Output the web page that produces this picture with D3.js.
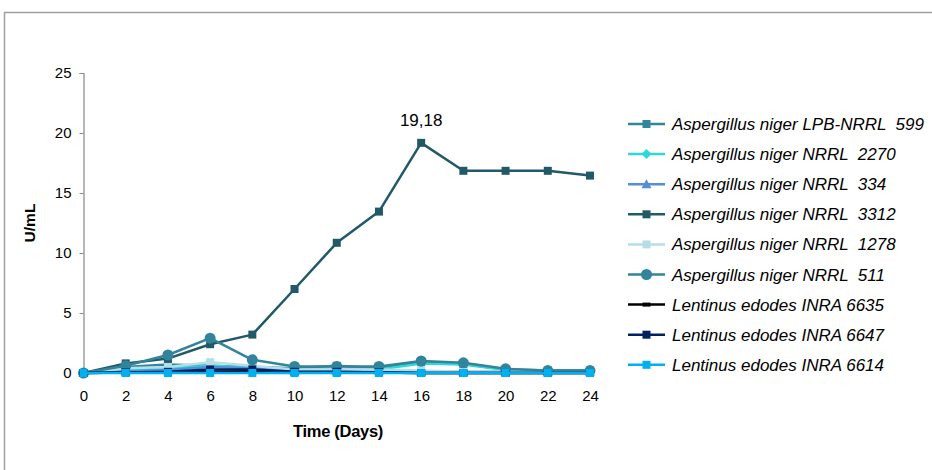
<!DOCTYPE html>
<html><head><meta charset="utf-8">
<script src="https://cdn.jsdelivr.net/npm/d3@7"></script>
<style>body{margin:0;background:#fff;} svg{display:block;font-family:"Liberation Sans",Arial,sans-serif;}</style>
</head><body><svg id="c" width="932" height="470"></svg>
<script>
const days = [0,2,4,6,8,10,12,14,16,18,20,22,24];
const yTicks = [0,5,10,15,20,25];
const seriesNames = [
  "Aspergillus niger LPB-NRRL  599",
  "Aspergillus niger NRRL  2270",
  "Aspergillus niger NRRL  334",
  "Aspergillus niger NRRL  3312",
  "Aspergillus niger NRRL  1278",
  "Aspergillus niger NRRL  511",
  "Lentinus edodes INRA 6635",
  "Lentinus edodes INRA 6647",
  "Lentinus edodes INRA 6614"
];
const v599  = [0,0.5,0.7,0.6,0.5,0.4,0.6,0.4,0.9,0.75,0.3,0.2,0.2];
const v2270 = [0,0.3,0.4,0.6,0.45,0.3,0.3,0.3,0.8,0.7,0.25,0.1,0.1];
const v334  = [0,0.15,0.25,0.5,0.4,0.2,0.2,0.2,0.1,0.1,0.1,0.1,0.1];
const v3312 = [0,0.8,1.2,2.4,3.2,7.0,10.85,13.45,19.18,16.85,16.85,16.85,16.45];
const v1278 = [0,0.4,0.5,0.9,0.6,0.3,0.3,0.3,0.2,0.1,0.1,0.1,0.1];
const v511  = [0,0.6,1.5,2.9,1.1,0.55,0.55,0.55,1.0,0.85,0.35,0.2,0.2];
const v6635 = [0,0.05,0.05,0.1,0.15,0.05,0.05,0.05,0,0,0,0,0];
const v6647 = [0,0.05,0.1,0.3,0.3,0.1,0.1,0.05,0,0,0,0,0];
const v6614 = [0,0,0,0,0,0,0,0,0,0,0,0,0];
const seriesValues = [v599,v2270,v334,v3312,v1278,v511,v6635,v6647,v6614];
const colors = ["#31859C","#2ED8D8","#558ED5","#215968","#B7DEE8","#31849B","#000000","#002060","#00B0F0"];
const markers = ["square","diamond","triangle","square","square","circle","dash","square","square"];
const peakLabel = "19,18";

const svg = d3.select("#c");
// outer frame
svg.append("path").attr("d","M4.5,470 L4.5,12.5 L932,12.5").attr("fill","none").attr("stroke","#a0a0a0").attr("stroke-width",1.5);

const x = d3.scaleLinear().domain([0,24]).range([83.5,590]);
const y = d3.scaleLinear().domain([0,25]).range([373,73]);

// y axis
const ya = svg.append("g").attr("transform","translate(83.5,0)")
  .call(d3.axisLeft(y).tickValues(yTicks).tickSize(4).tickPadding(8));
ya.select(".domain").attr("stroke","#888").attr("stroke-width",1.2);
ya.selectAll(".tick line").attr("stroke","#888");
ya.selectAll("text").attr("font-size",15).attr("fill","#000").attr("font-family","Liberation Sans, Arial, sans-serif");

// x axis
const xa = svg.append("g").attr("transform","translate(0,373)")
  .call(d3.axisBottom(x).tickValues(days).tickSize(0).tickPadding(17));
xa.select(".domain").attr("stroke","#888").attr("stroke-width",1);
xa.selectAll("text").attr("font-size",15).attr("fill","#000").attr("font-family","Liberation Sans, Arial, sans-serif");

// axis titles
svg.append("text").attr("x",338).attr("y",437).attr("text-anchor","middle")
  .attr("font-weight","bold").attr("font-size",16.5).attr("letter-spacing",-0.3).text("Time (Days)");
svg.append("text").attr("transform","translate(35,223) rotate(-90)").attr("text-anchor","middle")
  .attr("font-weight","bold").attr("font-size",15.5).text("U/mL");

function drawMarker(g, type, cx, cy, color){
  if(type==="square"){
    g.append("rect").attr("x",cx-4).attr("y",cy-4).attr("width",8).attr("height",8).attr("fill",color);
  } else if(type==="diamond"){
    g.append("path").attr("d",`M${cx},${cy-5}L${cx+5},${cy}L${cx},${cy+5}L${cx-5},${cy}Z`).attr("fill",color);
  } else if(type==="triangle"){
    g.append("path").attr("d",`M${cx},${cy-5}L${cx+5},${cy+4}L${cx-5},${cy+4}Z`).attr("fill",color);
  } else if(type==="circle"){
    g.append("circle").attr("cx",cx).attr("cy",cy).attr("r",5.5).attr("fill",color);
  } else if(type==="dash"){
    g.append("rect").attr("x",cx-4).attr("y",cy-2).attr("width",8).attr("height",4).attr("fill",color);
  }
}

const line = d3.line().x((d,i)=>x(days[i])).y(d=>y(d));
seriesValues.forEach((vals,si)=>{
  const g = svg.append("g");
  g.append("path").attr("d",line(vals)).attr("fill","none").attr("stroke",colors[si])
    .attr("stroke-width",2.5).attr("stroke-linejoin","round");
  vals.forEach((v,i)=>drawMarker(g, markers[si], x(days[i]), y(v), colors[si]));
});

// peak label
const pi = v3312.indexOf(d3.max(v3312));
svg.append("text").attr("x",x(days[pi])).attr("y",y(v3312[pi])-17).attr("text-anchor","middle")
  .attr("font-size",17).attr("font-family","Liberation Sans, Arial, sans-serif").text(peakLabel);

// legend
const lg = svg.append("g");
seriesNames.forEach((n,i)=>{
  const ly = 124 + i*30.1;
  lg.append("line").attr("x1",628).attr("x2",665).attr("y1",ly).attr("y2",ly)
    .attr("stroke",colors[i]).attr("stroke-width",2.5);
  drawMarker(lg, markers[i], 646.5, ly, colors[i]);
  lg.append("text").attr("x",672).attr("y",ly+6).attr("font-size",17)
    .attr("font-style","italic").attr("xml:space","preserve").style("white-space","pre").text(n);
});
</script></body></html>
